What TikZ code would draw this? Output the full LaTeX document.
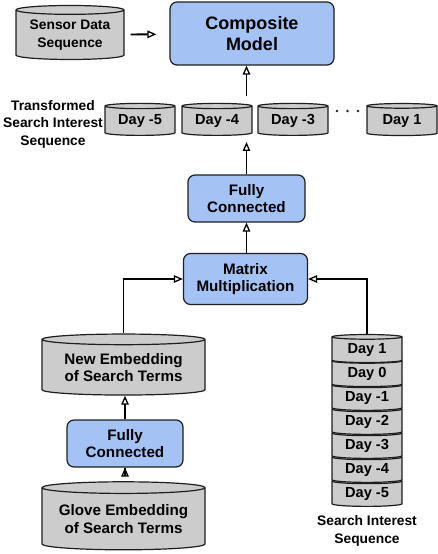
\documentclass[tikz,border=0pt]{standalone}
\usepackage{fontspec}
\setmainfont{Liberation Sans}
\usetikzlibrary{shapes.geometric,arrows.meta}
\definecolor{boxblue}{HTML}{A4C2F4}
\definecolor{cylgray}{HTML}{CCCCCC}
\definecolor{edgegray}{HTML}{1E1E1E}
\begin{document}
\begin{tikzpicture}[x=1pt,y=-1pt,
    font=\bfseries\fontsize{14.6}{17.6}\selectfont,
    blk/.style={draw=edgegray,line width=1.2pt,fill=boxblue,rounded corners=7pt,
      align=center,inner sep=0pt,font=\bfseries\fontsize{15.2}{17.7}\selectfont},
    cyl/.style={cylinder,shape border rotate=90,draw=edgegray,line width=1.2pt,
      cylinder uses custom fill,cylinder body fill=cylgray,cylinder end fill=cylgray,
      align=center,inner sep=0pt},
    daycyl/.style={cyl,minimum width=70pt,minimum height=32pt,aspect=0.12},
    stackcyl/.style={cyl,minimum width=70pt,minimum height=28pt,aspect=0.12},
    lbl/.style={align=center,font=\bfseries\fontsize{13.8}{17.5}\selectfont},
    arr/.style={line width=1.9pt,-{Triangle[open,length=9pt,width=7.5pt,line width=1.3pt]}}]
  \useasboundingbox (0,0) rectangle (438,554);
  % top row
  \path
    (70,35) node[cyl,minimum width=108pt,minimum height=54pt,aspect=0.11,
      font=\bfseries\fontsize{13.8}{17.8}\selectfont] (sensor) {Sensor Data\\Sequence}
    (252,33.5) node[blk,minimum width=164pt,minimum height=63pt,
      font=\bfseries\fontsize{18}{21.5}\selectfont] (comp) {Composite\\Model};
  % transformed sequence
  \path
    (53,124) node[lbl] (tsis) {Transformed\\Search Interest\\Sequence}
    (140,121) node[daycyl] (d5) {Day -5}
    (217,121) node[daycyl] (d4) {Day -4}
    (293,121) node[daycyl] (d3) {Day -3}
    (402,121) node[daycyl] (d1) {Day 1};
  \foreach \x in {337,347.5,358}
    \fill[edgegray] (\x,111) circle (1.4pt);
  % middle
  \path
    (246.5,198.5) node[blk,minimum width=117pt,minimum height=47pt] (fcTop) {Fully\\Connected}
    (245.5,279) node[blk,minimum width=124pt,minimum height=51pt] (mm) {Matrix\\Multiplication};
  % left branch
  \path
    (123.5,367.5) node[cyl,minimum width=163pt,minimum height=61pt,aspect=0.09,
      font=\bfseries\fontsize{15.2}{17.8}\selectfont] (newEmb) {New Embedding\\of Search Terms}
    (125,443.5) node[blk,minimum width=116pt,minimum height=47pt] (fcBot) {Fully\\Connected}
    (123.5,519) node[cyl,minimum width=163pt,minimum height=68pt,aspect=0.09,
      font=\bfseries\fontsize{15.2}{17.8}\selectfont] (glove) {Glove Embedding\\of Search Terms};
  % right branch, drawn bottom up
  \foreach \d/\y [count=\i] in {-5/494,-4/470,-3/446,-2/422,-1/398,0/374,1/350}
    \path (367,\y) node[stackcyl] (s\i) {Day \d};
  \path (367,531) node[lbl] (sis) {Search Interest\\Sequence};
  \begin{scope}[arr]
    \draw[shorten <=6pt,shorten >=13pt] (sensor) -- (comp);
    \draw[shorten >=6pt] (fcTop.north) -- (fcTop.north |- d4.south);
    \draw[shorten <=7pt] (fcTop.north |- d4.north) -- (comp.south -| fcTop.north);
    \draw (mm.north -| fcTop.south) -- (fcTop.south);
    \draw (newEmb.north) |- (mm.west);
    \draw (s7.north) |- (mm.east);
    \draw (fcBot.north) -- (newEmb.south -| fcBot.north);
    \draw[shorten <=13pt] (glove.north -| fcBot.south) -- (fcBot.south);
  \end{scope}
\end{tikzpicture}
\end{document}
